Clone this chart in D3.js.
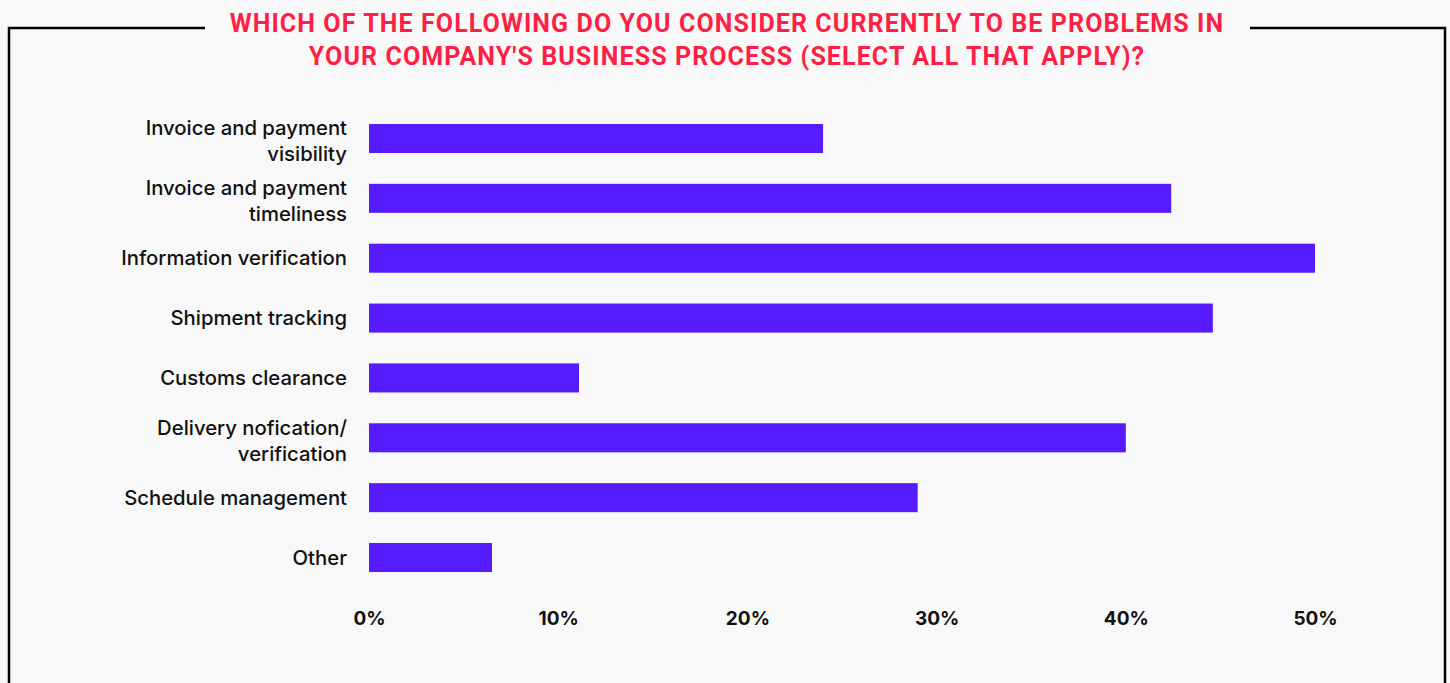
<!DOCTYPE html>
<html>
<head>
<meta charset="utf-8">
<script src="https://cdn.jsdelivr.net/npm/d3@7"></script>
<style>
  html, body { margin: 0; padding: 0; background: #f8f8f8; }
  svg { display: block; }
</style>
</head>
<body>
<div id="chart"></div>
<script>
// Chart data
const categories = [
  ["Invoice and payment", "visibility"],
  ["Invoice and payment", "timeliness"],
  ["Information verification"],
  ["Shipment tracking"],
  ["Customs clearance"],
  ["Delivery nofication/", "verification"],
  ["Schedule management"],
  ["Other"]
];
const values = [24.0, 42.4, 50.0, 44.6, 11.1, 40.0, 29.0, 6.5];
const tickValues = [0, 10, 20, 30, 40, 50];
const titleLines = [
  "WHICH OF THE FOLLOWING DO YOU CONSIDER CURRENTLY TO BE PROBLEMS IN",
  "YOUR COMPANY'S BUSINESS PROCESS (SELECT ALL THAT APPLY)?"
];

const W = 1450, H = 683;
const margin = { top: 109, right: 135, bottom: 94, left: 369 };
const width = W - margin.left - margin.right;
const height = H - margin.top - margin.bottom;

const svg = d3.select("#chart")
  .append("svg")
  .attr("width", W)
  .attr("height", H);

svg.append("rect")
  .attr("width", W)
  .attr("height", H)
  .attr("fill", "#f8f8f8");

// Frame with a gap for the title
svg.append("path")
  .attr("d", "M205,28 H9 V" + (H + 5))
  .attr("fill", "none")
  .attr("stroke", "#000")
  .attr("stroke-width", 2.5);
svg.append("path")
  .attr("d", "M1250,28 H1445 V" + (H + 5))
  .attr("fill", "none")
  .attr("stroke", "#000")
  .attr("stroke-width", 2.5);

// Title
svg.append("g")
  .selectAll("text")
  .data(titleLines)
  .enter()
  .append("text")
  .attr("x", 727)
  .attr("y", (d, i) => 32 + i * 33)
  .attr("text-anchor", "middle")
  .attr("fill", "#ff1f44")
  .style("font-family", "Roboto, sans-serif")
  .style("font-weight", "bold")
  .style("font-size", "25px")
  .style("letter-spacing", "1.1px")
  .text(d => d);

const g = svg.append("g")
  .attr("transform", "translate(" + margin.left + "," + margin.top + ")");

const xScale = d3.scaleLinear()
  .domain([0, 50])
  .range([0, width]);

const yScale = d3.scaleBand()
  .domain(d3.range(categories.length))
  .range([0, height - 2])
  .paddingInner(0.515)
  .paddingOuter(0.25);

// Bars
g.selectAll(".bar")
  .data(values)
  .enter()
  .append("rect")
  .attr("class", "bar")
  .attr("x", xScale(0))
  .attr("y", (d, i) => yScale(i))
  .attr("width", d => xScale(d) - xScale(0))
  .attr("height", yScale.bandwidth())
  .attr("fill", "#561bff");

// Category labels
const labels = g.selectAll(".cat")
  .data(categories)
  .enter()
  .append("text")
  .attr("class", "cat")
  .attr("x", -22)
  .attr("text-anchor", "end")
  .attr("fill", "#111")
  .style("font-family", "Inter, sans-serif")
  .style("font-weight", "500")
  .style("font-size", "20.3px")
  .attr("y", (d, i) => yScale(i) + yScale.bandwidth() / 2 + 7 - (d.length - 1) * 10);

labels.selectAll("tspan")
  .data(d => d)
  .enter()
  .append("tspan")
  .attr("x", -22)
  .attr("dy", (d, i) => i === 0 ? 0 : 26)
  .text(d => d);

// X axis
const xAxis = g.append("g")
  .attr("transform", "translate(0," + (height + 19) + ")")
  .call(d3.axisBottom(xScale).tickValues(tickValues).tickFormat(d => d + "%").tickSize(0));

xAxis.select(".domain").remove();
xAxis.selectAll("text")
  .attr("fill", "#111")
  .style("font-family", "Inter, sans-serif")
  .style("font-weight", "bold")
  .style("font-size", "19px");
</script>
</body>
</html>
